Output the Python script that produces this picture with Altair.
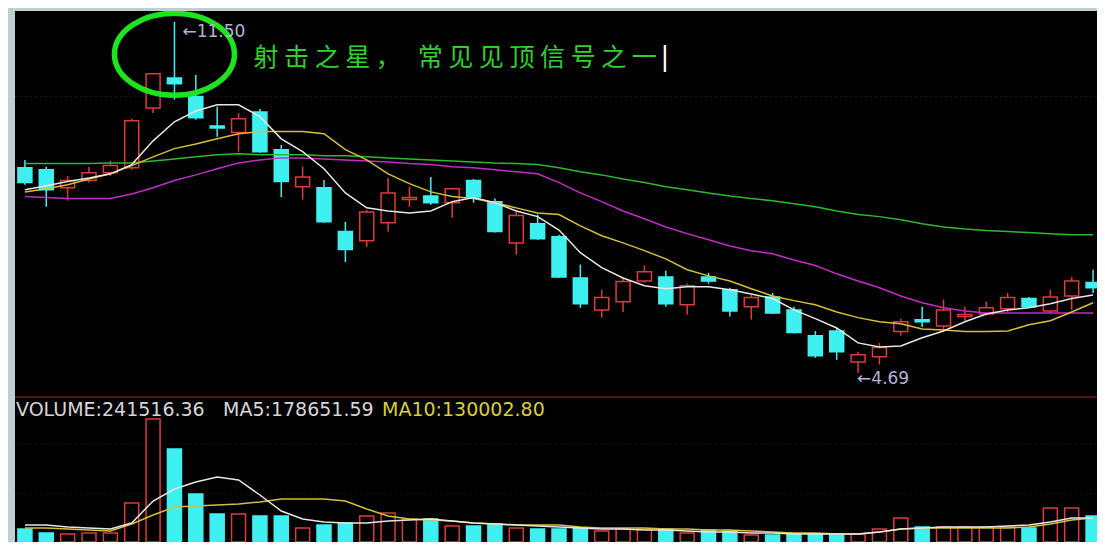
import altair as alt
import pandas as pd

# ---------------- data ----------------
idx = list(range(1, 52))
open_ = [8.67, 8.63, 8.28, 8.42, 8.57, 8.67, 9.83, 10.41, 10.05, 9.48,
         9.35, 9.75, 9.02, 8.30, 8.28, 7.43, 7.25, 7.60, 8.05, 8.12,
         7.99, 8.42, 8.01, 7.21, 7.58, 7.33, 6.53, 5.91, 6.07, 6.47,
         6.55, 6.01, 6.55, 6.30, 5.97, 6.16, 5.91, 5.41, 5.50, 4.90,
         5.00, 5.49, 5.72, 5.60, 5.78, 5.83, 5.93, 6.13, 5.89, 6.18, 6.44]
close_ = [8.38, 8.24, 8.42, 8.57, 8.71, 9.58, 10.49, 10.30, 9.64, 9.44,
          9.62, 8.98, 8.40, 8.49, 7.62, 7.08, 7.81, 8.18, 8.09, 7.99,
          8.26, 8.10, 7.43, 7.74, 7.29, 6.55, 6.03, 6.15, 6.46, 6.65,
          6.03, 6.38, 6.47, 5.89, 6.15, 5.85, 5.47, 5.02, 5.10, 5.04,
          5.18, 5.68, 5.68, 5.91, 5.82, 5.95, 6.15, 5.97, 6.16, 6.47, 6.34]
high_ = [8.82, 8.69, 8.51, 8.69, 8.80, 9.62, 10.50, 11.50, 10.47, 9.85,
         9.73, 9.81, 9.11, 8.69, 8.43, 7.62, 7.85, 8.47, 8.30, 8.49,
         8.28, 8.45, 8.07, 7.85, 7.76, 7.37, 6.79, 6.30, 6.55, 6.77,
         6.67, 6.42, 6.63, 6.34, 6.20, 6.24, 5.97, 5.50, 5.56, 5.10,
         5.27, 5.74, 5.97, 6.11, 5.97, 6.07, 6.24, 6.16, 6.30, 6.55, 6.69]
low_ = [8.34, 7.91, 8.03, 8.38, 8.51, 8.63, 9.73, 9.99, 9.60, 9.27,
        8.98, 8.96, 8.10, 8.05, 7.60, 6.84, 7.13, 7.43, 7.91, 7.95,
        7.70, 7.99, 7.41, 6.98, 7.27, 6.53, 5.95, 5.76, 5.87, 6.44,
        5.97, 5.82, 6.42, 5.78, 5.72, 5.83, 5.45, 4.98, 4.94, 4.69,
        4.85, 5.41, 5.58, 5.49, 5.70, 5.80, 5.87, 5.95, 5.85, 5.91, 6.24]
ma5 = [8.24, 8.32, 8.40, 8.47, 8.55, 8.73, 9.19, 9.56, 9.77, 9.89,
       9.89, 9.66, 9.23, 8.98, 8.65, 8.18, 7.89, 7.83, 7.79, 7.83,
       8.01, 8.09, 7.99, 7.83, 7.72, 7.46, 7.02, 6.73, 6.53, 6.38,
       6.32, 6.36, 6.36, 6.30, 6.22, 6.13, 5.91, 5.74, 5.56, 5.27,
       5.19, 5.21, 5.37, 5.50, 5.68, 5.83, 5.91, 5.95, 6.03, 6.13, 6.20]
ma10 = [8.20, 8.26, 8.34, 8.45, 8.55, 8.71, 8.88, 9.04, 9.13, 9.23,
        9.33, 9.37, 9.37, 9.37, 9.33, 9.02, 8.82, 8.55, 8.36, 8.20,
        8.11, 8.07, 7.99, 7.89, 7.79, 7.76, 7.54, 7.35, 7.21, 7.06,
        6.90, 6.69, 6.57, 6.47, 6.32, 6.18, 6.09, 6.01, 5.87, 5.76,
        5.68, 5.64, 5.54, 5.52, 5.49, 5.49, 5.50, 5.62, 5.70, 5.87, 6.05]
ma20 = [8.11, 8.09, 8.07, 8.07, 8.07, 8.16, 8.28, 8.42, 8.53, 8.65,
        8.76, 8.82, 8.86, 8.86, 8.84, 8.82, 8.80, 8.78, 8.75, 8.73,
        8.69, 8.67, 8.63, 8.59, 8.55, 8.38, 8.18, 8.01, 7.83, 7.68,
        7.52, 7.39, 7.27, 7.15, 7.06, 7.00, 6.88, 6.77, 6.61, 6.47,
        6.34, 6.18, 6.05, 5.95, 5.89, 5.85, 5.85, 5.85, 5.85, 5.85, 5.85]
ma60 = [8.75, 8.75, 8.75, 8.75, 8.76, 8.76, 8.80, 8.84, 8.88, 8.92,
        8.94, 8.92, 8.92, 8.92, 8.90, 8.90, 8.88, 8.86, 8.84, 8.82,
        8.80, 8.78, 8.76, 8.75, 8.73, 8.67, 8.59, 8.53, 8.45, 8.38,
        8.30, 8.24, 8.18, 8.12, 8.07, 8.03, 7.97, 7.91, 7.83, 7.76,
        7.72, 7.66, 7.58, 7.52, 7.48, 7.45, 7.43, 7.41, 7.39, 7.37, 7.37]
volume = [120900, 83700, 74400, 83700, 83700, 362700, 1143900, 864900, 446400, 260400,
          260400, 241800, 241800, 130200, 158100, 176700, 241800, 269700, 213900, 213900,
          148800, 148800, 167400, 130200, 120900, 120900, 130200, 102300, 120900, 120900,
          120900, 83700, 111600, 102300, 65100, 65100, 74400, 74400, 74400, 74400,
          120900, 223200, 139500, 139500, 139500, 139500, 139500, 130200, 316200, 316200, 241516]
vol_ma5 = [158100, 158100, 139500, 130200, 120900, 176700, 381300, 492900, 558000, 604500,
           576600, 437100, 288300, 213900, 186000, 176700, 176700, 195300, 204600, 213900,
           195300, 176700, 167400, 158100, 148800, 139500, 130200, 120900, 120900, 111600,
           111600, 102300, 93000, 93000, 83700, 83700, 74400, 74400, 74400, 74400,
           93000, 120900, 130200, 139500, 139500, 139500, 148800, 158100, 186000, 223200, 223200]
vol_ma10 = [130200, 130200, 120900, 111600, 102300, 167400, 251100, 325500, 334800, 344100,
            353400, 372000, 399900, 399900, 399900, 381300, 306900, 241800, 213900, 204600,
            195300, 176700, 167400, 158100, 158100, 158100, 139500, 130200, 130200, 130200,
            120900, 120900, 111600, 111600, 102300, 93000, 83700, 83700, 74400, 74400,
            93000, 120900, 130200, 130200, 130200, 130200, 130200, 139500, 167400, 204600, 223200]

header_texts = ["VOLUME:241516.36", "MA5:178651.59", "MA10:130002.80"]
note_text = "射击之星，常见见顶信号之一"
price_grid = [10.05]
vol_grid = [446400, 911400]

# ---------------- styling ----------------
RED = "#dc3b3b"
CYAN = "#3ff0f0"
GREEN_NOTE = "#2fd02f"
ELLIPSE_GREEN = "#1ee41e"
LABEL = "#b4b4d4"
X_DOM = [0.77, 50.95]
Y_DOM = [4.22, 11.71]
VOL_MAX = 1348500
W = 1082
H_TOP = 386
H_VOL = 145

df = pd.DataFrame({
    "i": idx, "o": open_, "c": close_, "h": high_, "l": low_,
    "ma5": ma5, "ma10": ma10, "ma20": ma20, "ma60": ma60,
    "v": volume, "vma5": vol_ma5, "vma10": vol_ma10,
})
df["dir"] = ["up" if c >= o else "down" for o, c in zip(open_, close_)]

xs = alt.Scale(domain=X_DOM, nice=False, zero=False)
ys = alt.Scale(domain=Y_DOM, nice=False, zero=False)
vs = alt.Scale(domain=[0, VOL_MAX], nice=False, zero=False)
stroke_sc = alt.Scale(domain=["up", "down"], range=[RED, CYAN])
fill_sc = alt.Scale(domain=["up", "down"], range=["#000000", CYAN])

X = alt.X("i:Q", scale=xs, axis=None)
base = alt.Chart(df)

# ---------- price panel ----------
grid_p = alt.Chart(pd.DataFrame({"g": price_grid})).mark_rule(
    color="#3a0d0d", strokeDash=[2, 3], strokeWidth=1, clip=True
).encode(y=alt.Y("g:Q", scale=ys, axis=None))

wicks = base.mark_rule(strokeWidth=1.5, clip=True).encode(
    x=X,
    y=alt.Y("l:Q", scale=ys, axis=None),
    y2="h:Q",
    color=alt.Color("dir:N", scale=stroke_sc, legend=None),
)
bodies = base.mark_bar(size=14, strokeWidth=1.5, clip=True).encode(
    x=X,
    y=alt.Y("o:Q", scale=ys, axis=None),
    y2="c:Q",
    fill=alt.Fill("dir:N", scale=fill_sc, legend=None),
    stroke=alt.Stroke("dir:N", scale=stroke_sc, legend=None),
)

def ma_line(field, col, sc):
    return base.mark_line(color=col, strokeWidth=1.5, clip=True).encode(
        x=X, y=alt.Y(f"{field}:Q", scale=sc, axis=None))

lines = [ma_line("ma60", "#2fb82f", ys), ma_line("ma20", "#c42cc4", ys),
         ma_line("ma10", "#d4bf3a", ys), ma_line("ma5", "#e6e6e6", ys)]

top_pt = pd.DataFrame({"i": [8], "p": [max(high_)]})
low_pt = pd.DataFrame({"i": [40], "p": [min(low_)]})

ellipse_path = ("M 1 0 C 1 0.377 0.552 0.683 0 0.683 C -0.552 0.683 -1 0.377 -1 0 "
                "C -1 -0.377 -0.552 -0.683 0 -0.683 C 0.552 -0.683 1 -0.377 1 0 Z")
ellipse = alt.Chart(pd.DataFrame({"i": [8], "p": [10.87]})).mark_point(
    shape=ellipse_path, size=14400, filled=False, stroke=ELLIPSE_GREEN,
    strokeWidth=5.5, strokeJoin="round", opacity=1, clip=True
).encode(x=alt.X("i:Q", scale=xs, axis=None), y=alt.Y("p:Q", scale=ys, axis=None))

hi_label = alt.Chart(top_pt).mark_text(
    text="←" + f"{max(high_):.2f}", align="left", baseline="middle", dx=8, dy=10,
    font="DejaVu Sans", fontSize=17, color=LABEL
).encode(x=alt.X("i:Q", scale=xs, axis=None), y=alt.Y("p:Q", scale=ys, axis=None))

lo_label = alt.Chart(low_pt).mark_text(
    text="←" + f"{min(low_):.2f}", align="left", baseline="middle", dx=-1, dy=6,
    font="DejaVu Sans", fontSize=17, color=LABEL
).encode(x=alt.X("i:Q", scale=xs, axis=None), y=alt.Y("p:Q", scale=ys, axis=None))

note_str = "\u00a0".join(note_text[:5]) + "\u00a0\u00a0\u00a0" + "\u00a0".join(note_text[5:])
note = alt.Chart(top_pt).mark_text(
    text=note_str, align="left", baseline="middle", dx=79, dy=36,
    font="Noto Sans CJK SC", fontSize=25, fontWeight="normal", color=GREEN_NOTE
).encode(x=alt.X("i:Q", scale=xs, axis=None), y=alt.Y("p:Q", scale=ys, axis=None))

cursor = alt.Chart(top_pt).mark_text(
    text="|", align="left", baseline="middle", dx=486, dy=35,
    font="DejaVu Sans", fontSize=26, color="#ffffff"
).encode(x=alt.X("i:Q", scale=xs, axis=None), y=alt.Y("p:Q", scale=ys, axis=None))

sep_top = alt.Chart(pd.DataFrame({"g": [Y_DOM[0]]})).mark_rule(
    color="#5a1414", strokeWidth=2, clip=True
).encode(y=alt.Y("g:Q", scale=ys, axis=None))

upper = alt.layer(grid_p, wicks, bodies, *lines, ellipse, hi_label, lo_label,
                  note, cursor, sep_top).properties(width=W, height=H_TOP)

# ---------- volume panel ----------
grid_v = alt.Chart(pd.DataFrame({"g": vol_grid})).mark_rule(
    color="#2e0a0a", strokeDash=[2, 3], strokeWidth=1, clip=True
).encode(y=alt.Y("g:Q", scale=vs, axis=None))

vbars = base.mark_bar(size=14, strokeWidth=1.5, clip=True).encode(
    x=X,
    y=alt.Y("v:Q", scale=vs, axis=None),
    fill=alt.Fill("dir:N", scale=fill_sc, legend=None),
    stroke=alt.Stroke("dir:N", scale=stroke_sc, legend=None),
)
vlines = [ma_line("vma10", "#d4bf3a", vs), ma_line("vma5", "#e6e6e6", vs)]

sep_vol = alt.Chart(pd.DataFrame({"g": [VOL_MAX]})).mark_rule(
    color="#5a1414", strokeWidth=2, clip=True
).encode(y=alt.Y("g:Q", scale=vs, axis=None))

hdr_colors = ["#d6d6d6", "#d6d6d6", "#d8cf3a"]
hdr_dx = [-4, 203, 362]
headers = [
    alt.Chart(pd.DataFrame({"i": [X_DOM[0]], "v": [VOL_MAX]})).mark_text(
        text=t, align="left", baseline="middle", dx=dx, dy=13,
        font="DejaVu Sans", fontSize=19, color=col, clip=True
    ).encode(x=alt.X("i:Q", scale=xs, axis=None), y=alt.Y("v:Q", scale=vs, axis=None))
    for t, col, dx in zip(header_texts, hdr_colors, hdr_dx)
]

lower = alt.layer(grid_v, vbars, *vlines, sep_vol, *headers).properties(
    width=W, height=H_VOL)

chart = alt.vconcat(upper, lower, spacing=0).properties(
    background="#bfcfcf",
    padding={"left": 7, "top": 3, "right": 0, "bottom": 0},
).configure_view(fill="#000000", strokeWidth=0)

chart.save("out.html", embed_options={"renderer": "svg", "actions": False})
